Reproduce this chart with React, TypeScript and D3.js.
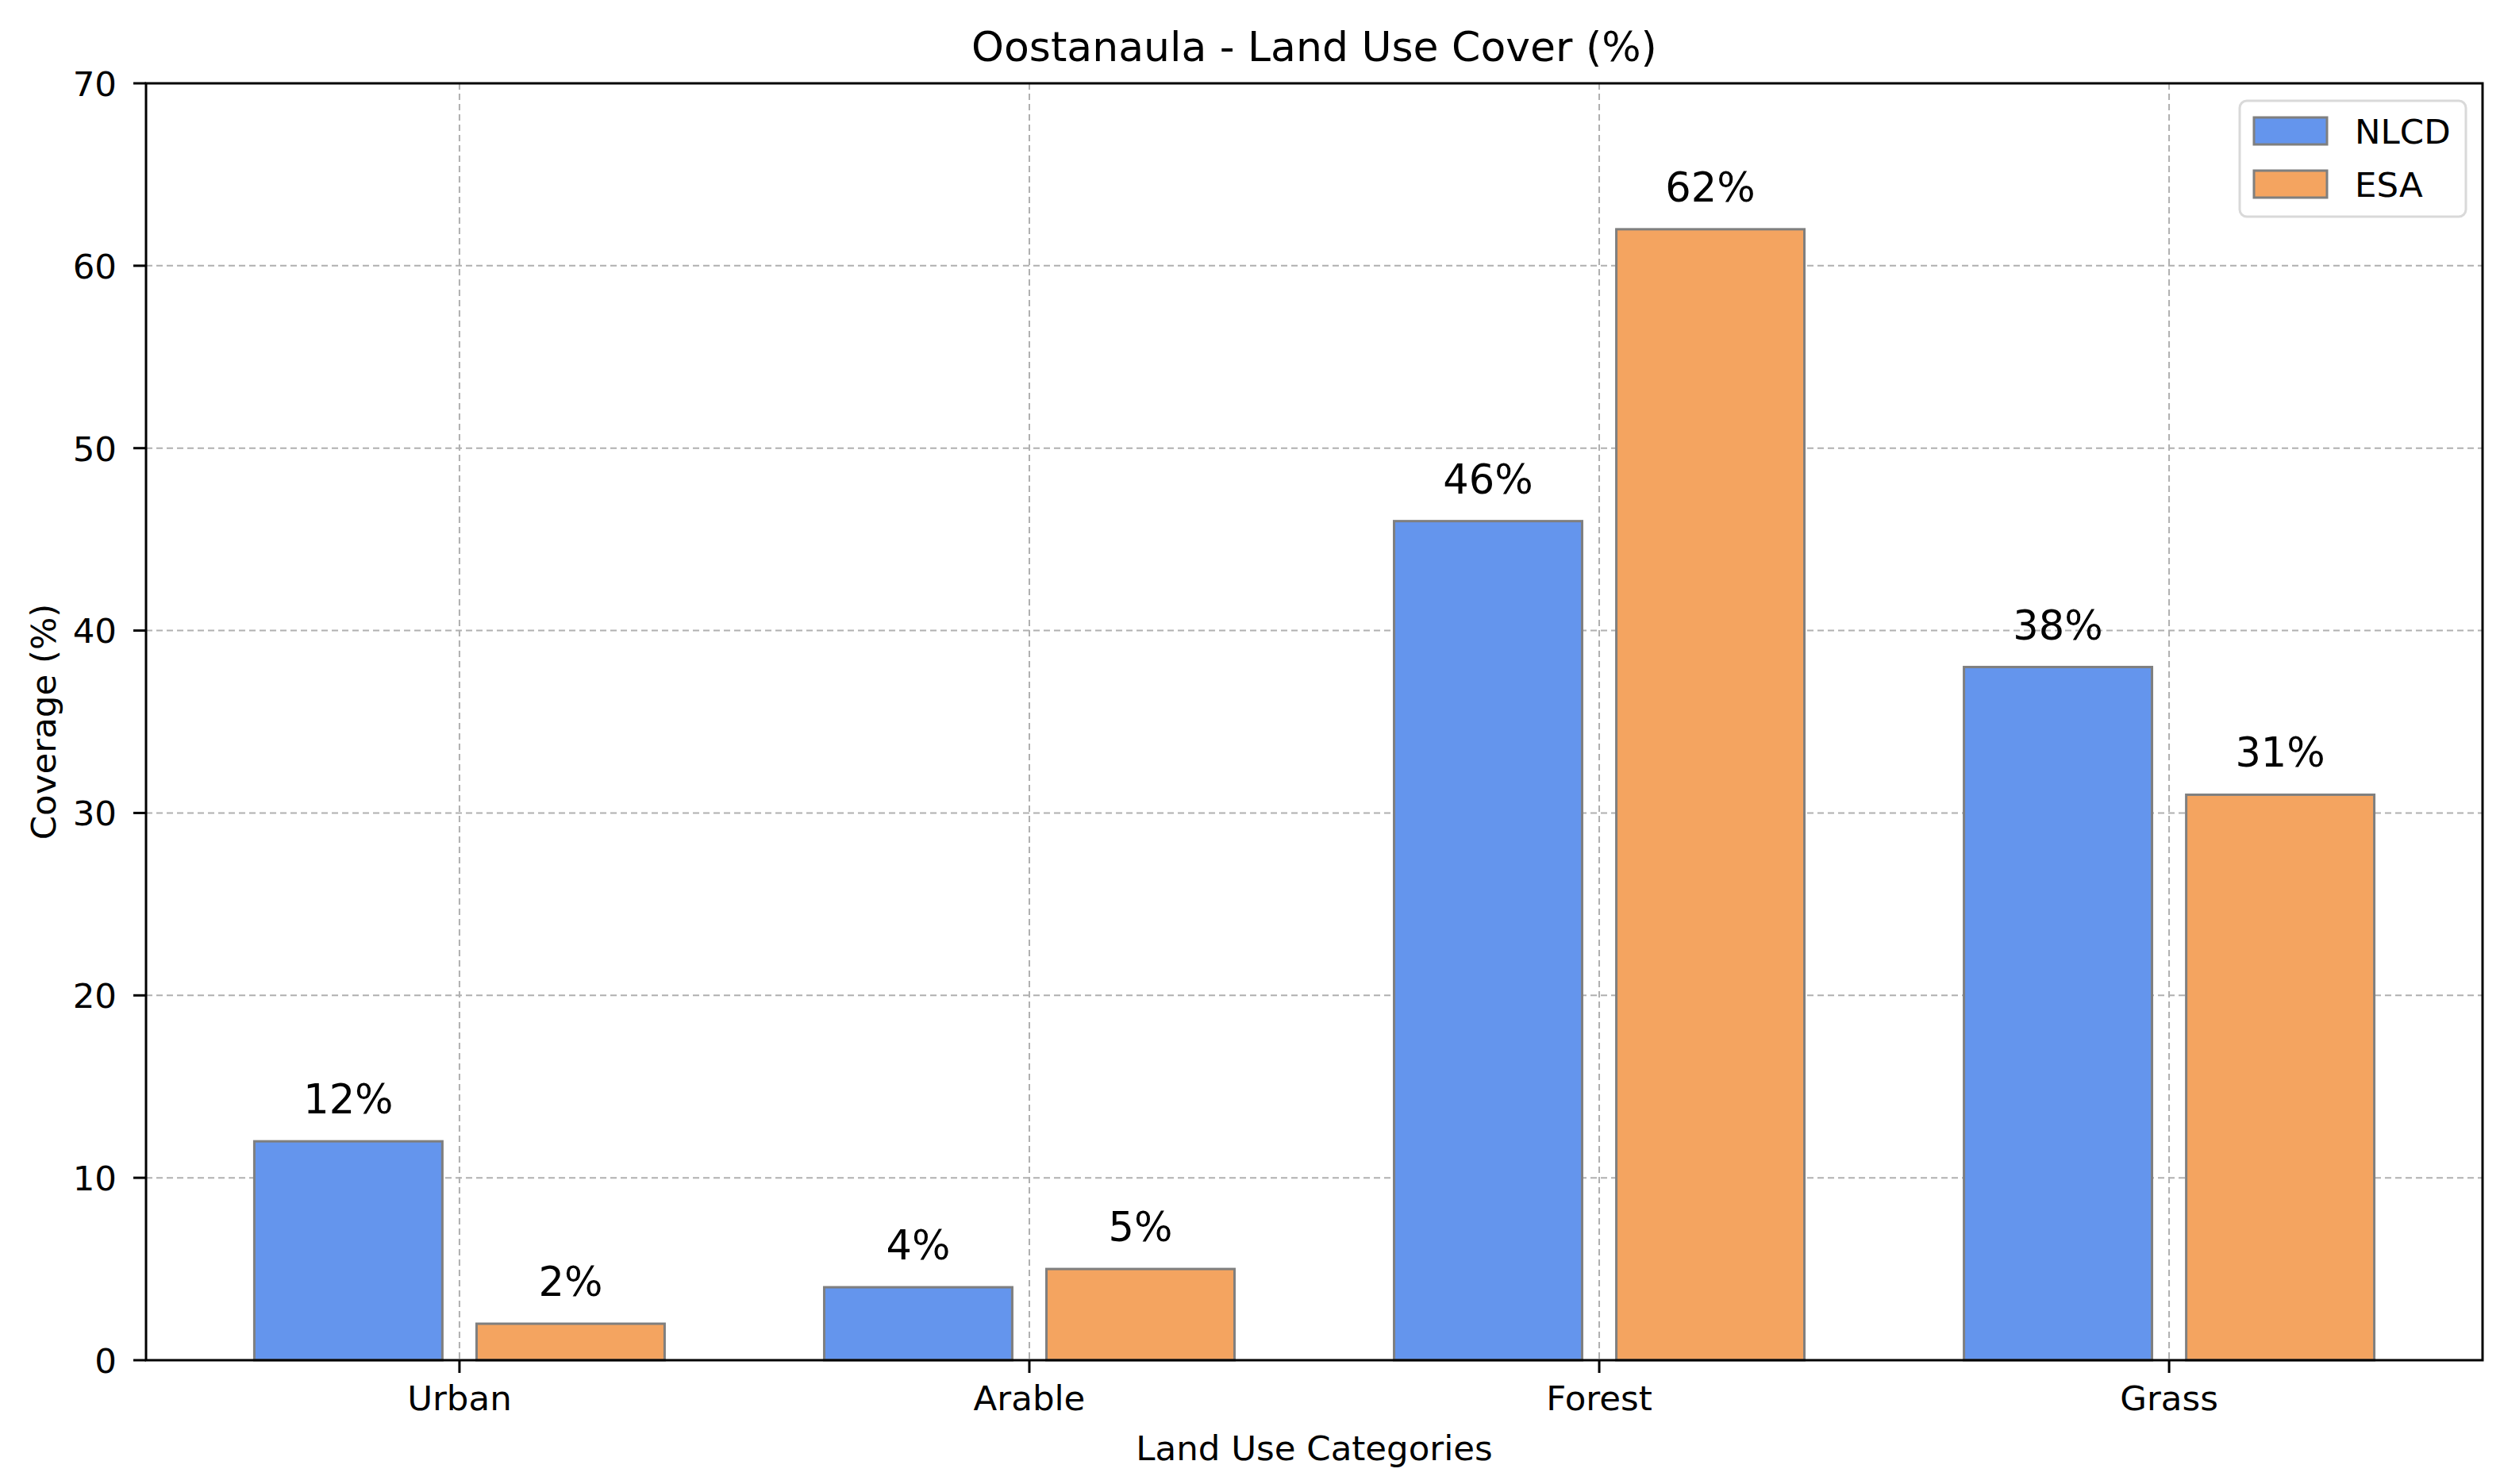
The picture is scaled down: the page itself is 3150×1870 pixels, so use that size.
import React from "react";
import * as d3 from "d3";

const categories = ["Urban", "Arable", "Forest", "Grass"];
const seriesNames = ["NLCD", "ESA"];
const nlcdValues = [12, 4, 46, 38];
const esaValues = [2, 5, 62, 31];
const yTicks = [0, 10, 20, 30, 40, 50, 60, 70];
const seriesColors = ["#6495ED", "#F4A460"];

const W = 3150;
const H = 1870;
const M = { left: 184, right: 3128, top: 105, bottom: 1714 };
const FONT = "'DejaVu Sans', sans-serif";

export default function App() {
  const x = d3.scaleLinear().domain([-0.55, 3.55]).range([M.left, M.right]);
  const y = d3.scaleLinear().domain([0, 70]).range([M.bottom, M.top]);
  const barW = 0.33;
  const off = 0.195;
  const series = [nlcdValues, esaValues];
  const tickFs = 43.5;
  const valFs = 51;

  return (
    <svg
      width={W}
      height={H}
      style={{ position: "absolute", left: 0, top: 0, background: "#fff" }}
      fontFamily={FONT}
    >
      <rect x={0} y={0} width={W} height={H} fill="#fff" />
      {/* grid */}
      <g stroke="#b0b0b0" strokeWidth={2} strokeDasharray="8,5">
        {yTicks.map((t) => (
          <line key={"gy" + t} x1={M.left} x2={M.right} y1={y(t)} y2={y(t)} />
        ))}
        {categories.map((c, i) => (
          <line key={"gx" + c} x1={x(i)} x2={x(i)} y1={M.top} y2={M.bottom} />
        ))}
      </g>
      {/* bars */}
      {series.map((vals, si) =>
        vals.map((v, i) => {
          const cx = x(i) + (si === 0 ? -1 : 1) * (x(off) - x(0));
          const w = x(barW) - x(0);
          return (
            <g key={"b" + si + i}>
              <rect
                x={cx - w / 2}
                y={y(v)}
                width={w}
                height={y(0) - y(v)}
                fill={seriesColors[si]}
                stroke="#7f7f7f"
                strokeWidth={3}
              />
              <text
                x={cx}
                y={y(v + 1) - 0.236 * valFs}
                fontSize={valFs}
                textAnchor="middle"
                fill="#000"
              >
                {v + "%"}
              </text>
            </g>
          );
        })
      )}
      {/* spines */}
      <rect
        x={M.left}
        y={M.top}
        width={M.right - M.left}
        height={M.bottom - M.top}
        fill="none"
        stroke="#000"
        strokeWidth={3}
      />
      {/* y ticks */}
      {yTicks.map((t) => (
        <g key={"yt" + t}>
          <line x1={M.left - 16} x2={M.left} y1={y(t)} y2={y(t)} stroke="#000" strokeWidth={3} />
          <text
            x={147}
            y={y(t) + 0.3645 * tickFs}
            fontSize={tickFs}
            textAnchor="end"
            fill="#000"
          >
            {t}
          </text>
        </g>
      ))}
      {/* x ticks */}
      {categories.map((c, i) => (
        <g key={"xt" + c}>
          <line x1={x(i)} x2={x(i)} y1={M.bottom} y2={M.bottom + 16} stroke="#000" strokeWidth={3} />
          <text x={x(i)} y={1777} fontSize={tickFs} textAnchor="middle" fill="#000">
            {c}
          </text>
        </g>
      ))}
      {/* axis labels */}
      <text
        x={(M.left + M.right) / 2}
        y={1840}
        fontSize={tickFs}
        textAnchor="middle"
        fill="#000"
      >
        Land Use Categories
      </text>
      <text
        transform={`translate(70, ${(M.top + M.bottom) / 2}) rotate(-90)`}
        fontSize={tickFs}
        textAnchor="middle"
        fill="#000"
      >
        Coverage (%)
      </text>
      {/* title */}
      <text x={(M.left + M.right) / 2} y={77} fontSize={52} textAnchor="middle" fill="#000">
        Oostanaula - Land Use Cover (%)
      </text>
      {/* legend */}
      <g>
        <rect
          x={2822}
          y={127}
          width={285}
          height={146}
          rx={9}
          fill="#fff"
          fillOpacity={0.8}
          stroke="#d9d9d9"
          strokeWidth={3}
        />
        {seriesNames.map((s, si) => (
          <g key={"lg" + s}>
            <rect
              x={2840}
              y={148 + si * 67}
              width={92}
              height={34}
              fill={seriesColors[si]}
              stroke="#7f7f7f"
              strokeWidth={3}
            />
            <text x={2967} y={181 + si * 67} fontSize={tickFs} fill="#000">
              {s}
            </text>
          </g>
        ))}
      </g>
    </svg>
  );
}
